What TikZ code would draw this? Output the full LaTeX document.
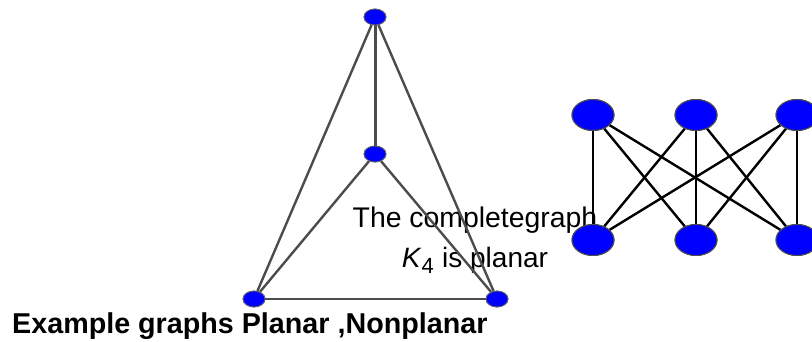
\documentclass[tikz,border=0pt]{standalone}
\usepackage{fontspec}
\setmainfont{Liberation Sans}
\usetikzlibrary{shapes.geometric}
\begin{document}
\begin{tikzpicture}[x=1pt,y=1pt,
  small/.style={ellipse,fill=blue,draw=black!60,line width=0.8pt,minimum width=22pt,minimum height=16pt,inner sep=0pt},
  big/.style={ellipse,fill=blue,draw=black!70,line width=1pt,minimum width=42pt,minimum height=31pt,inner sep=0pt},
  kedge/.style={draw=black!70,line width=2.4pt},
  bedge/.style={draw=black,line width=2.4pt},
  lbl/.style={inner sep=0pt,anchor=base,font=\fontsize{28.4}{30}\selectfont}]
\useasboundingbox (0,0) rectangle (812,341);
\begin{scope}
\clip (0,0) rectangle (812,341);
% K4
\node[small] (t) at (375,324) {};
\node[small] (m) at (375,187) {};
\node[small] (bl) at (254,42) {};
\node[small] (br) at (497,42) {};
% K33
\node[big] (a1) at (593,226) {};
\node[big] (a2) at (696,226) {};
\node[big] (a3) at (797,226) {};
\node[big] (b1) at (593,101) {};
\node[big] (b2) at (696,101) {};
\node[big] (b3) at (797,101) {};
% labels
\node[lbl] (l1) at (475,114) {The completegraph};
\node[lbl,font=\fontsize{28}{30}\selectfont] (l2) at (475,74) {\textit{K}\textsubscript{\fontsize{22}{23}\selectfont 4} is planar};
\node[inner sep=0pt,anchor=base west,font=\fontsize{28.7}{30}\selectfont\bfseries] (cap) at (12,8) {Example graphs Planar ,Nonplanar};
% edges
\draw[kedge,line width=3pt] (t) -- (m);
\draw[kedge] (t) -- (bl);
\draw[kedge] (t) -- (br);
\draw[kedge] (m) -- (bl);
\draw[kedge] (m) -- (br);
\draw[kedge] (bl) -- (br);
\foreach \u in {a1,a2,a3}{\foreach \v in {b1,b2,b3}{\draw[bedge] (\u) -- (\v);}}
% redraw nodes on top
\foreach \n in {t,m,bl,br}{\node[small] at (\n) {};}
\foreach \n in {a1,a2,a3,b1,b2,b3}{\node[big] at (\n) {};}
\end{scope}
\end{tikzpicture}
\end{document}
